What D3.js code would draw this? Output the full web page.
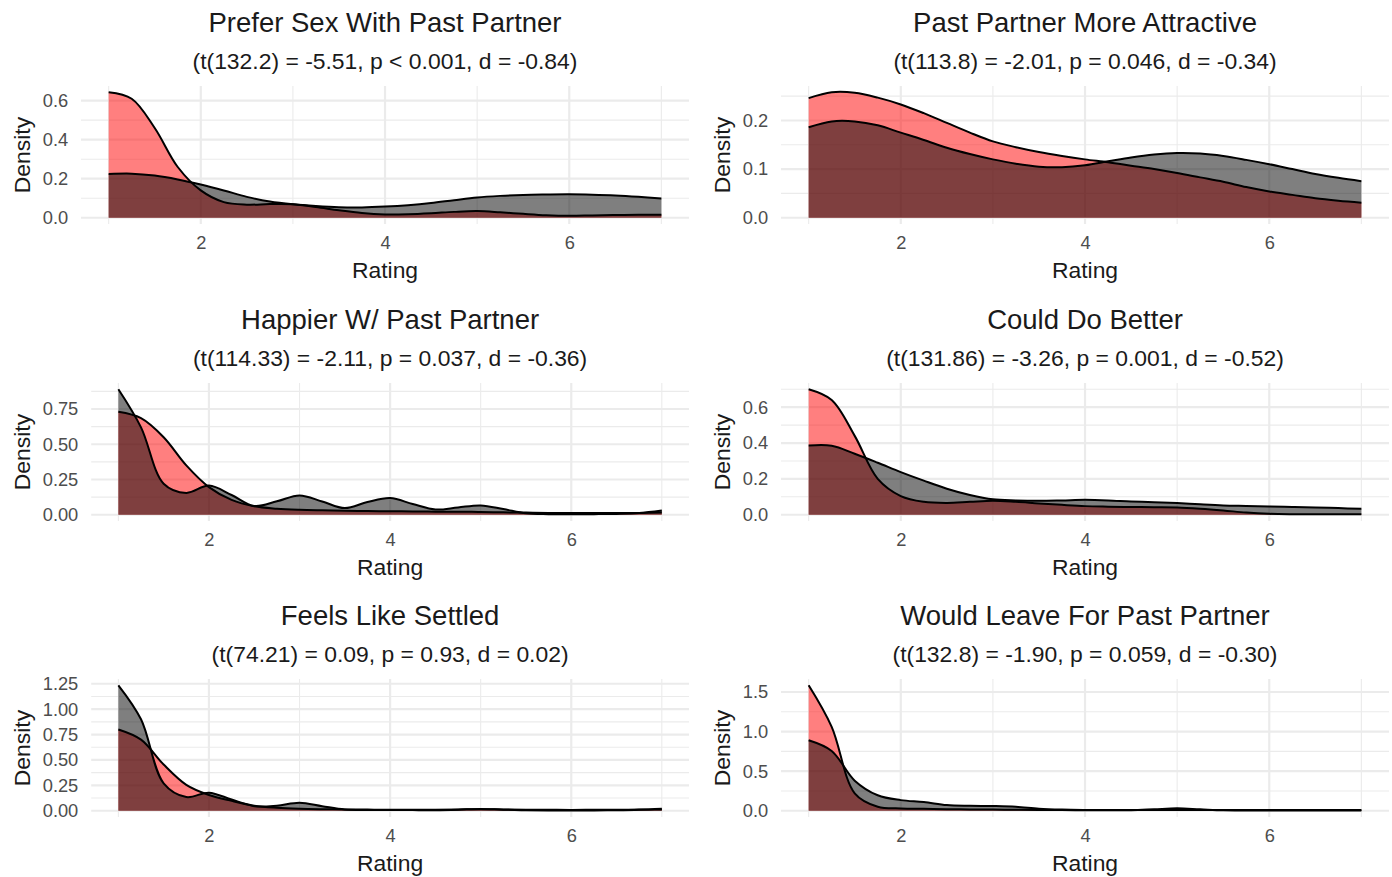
<!DOCTYPE html>
<html>
<head>
<meta charset="utf-8">
<script src="https://d3js.org/d3.v7.min.js"></script>
<style>
  body { margin: 0; background: #fff; }
  svg { display: block; font-family: "Liberation Sans", Arial, sans-serif; }
  .grid-major { stroke: #EBEBEB; stroke-width: 2.2px; }
  .grid-minor { stroke: #EBEBEB; stroke-width: 1.1px; }
  .plot-title { fill: #1a1a1a; font-size: 27.5px; }
  .plot-subtitle { fill: #1a1a1a; font-size: 22.9px; }
  .axis-title { fill: #1a1a1a; font-size: 22.9px; }
  .density-line { fill: none; stroke: #000; stroke-width: 2px; stroke-linejoin: round; }
</style>
</head>
<body>
<svg id="chart" width="1392" height="877"></svg>
<script>
  // rating grid the densities were read at
  const rating = [1, 1.25, 1.5, 1.75, 2, 2.25, 2.5, 2.75, 3, 3.25, 3.5, 3.75, 4,
    4.25, 4.5, 4.75, 5, 5.25, 5.5, 5.75, 6, 6.25, 6.5, 6.75, 7];
  const xBreaks = [2, 4, 6];

  const titles = [
    "Prefer Sex With Past Partner",
    "Past Partner More Attractive",
    "Happier W/ Past Partner",
    "Could Do Better",
    "Feels Like Settled",
    "Would Leave For Past Partner"
  ];
  const subtitles = [
    "(t(132.2) = -5.51, p < 0.001, d = -0.84)",
    "(t(113.8) = -2.01, p = 0.046, d = -0.34)",
    "(t(114.33) = -2.11, p = 0.037, d = -0.36)",
    "(t(131.86) = -3.26, p = 0.001, d = -0.52)",
    "(t(74.21) = 0.09, p = 0.93, d = 0.02)",
    "(t(132.8) = -1.90, p = 0.059, d = -0.30)"
  ];

  const preferSexRed = [0.643, 0.61, 0.46, 0.26, 0.14, 0.08, 0.067, 0.07, 0.069, 0.055, 0.038, 0.024, 0.017,
    0.018, 0.023, 0.03, 0.034, 0.028, 0.02, 0.013, 0.01, 0.012, 0.014, 0.015, 0.015];
  const preferSexBlack = [0.224, 0.226, 0.216, 0.196, 0.17, 0.14, 0.107, 0.083, 0.069, 0.06, 0.054, 0.053, 0.057,
    0.064, 0.075, 0.09, 0.104, 0.112, 0.117, 0.119, 0.12, 0.118, 0.114, 0.107, 0.098];
  const preferSexTicks = [0, 0.2, 0.4, 0.6];

  const attractiveRed = [0.246, 0.258, 0.257, 0.247, 0.233, 0.215, 0.195, 0.175, 0.157, 0.145, 0.135, 0.127, 0.12,
    0.114, 0.107, 0.1, 0.092, 0.083, 0.074, 0.063, 0.054, 0.047, 0.04, 0.035, 0.031];
  const attractiveBlack = [0.186, 0.198, 0.198, 0.19, 0.175, 0.16, 0.144, 0.131, 0.12, 0.111, 0.105, 0.104, 0.108,
    0.116, 0.124, 0.13, 0.133, 0.132, 0.127, 0.119, 0.11, 0.1, 0.09, 0.082, 0.075];
  const attractiveTicks = [0, 0.1, 0.2];

  const happierRed = [0.73, 0.685, 0.55, 0.35, 0.196, 0.105, 0.06, 0.043, 0.035, 0.031, 0.028, 0.026, 0.025,
    0.023, 0.022, 0.021, 0.02, 0.017, 0.015, 0.013, 0.012, 0.012, 0.012, 0.013, 0.015];
  const happierBlack = [0.89, 0.62, 0.22, 0.155, 0.207, 0.14, 0.062, 0.095, 0.137, 0.094, 0.047, 0.09, 0.118,
    0.076, 0.037, 0.052, 0.066, 0.04, 0.01, 0.004, 0.003, 0.004, 0.006, 0.012, 0.03];
  const happierTicks = [0, 0.25, 0.5, 0.75];

  const betterRed = [0.70, 0.64, 0.44, 0.2, 0.104, 0.072, 0.066, 0.072, 0.078, 0.072, 0.063, 0.055, 0.048,
    0.045, 0.043, 0.042, 0.041, 0.034, 0.024, 0.012, 0.005, 0.003, 0.003, 0.003, 0.003];
  const betterBlack = [0.386, 0.385, 0.34, 0.29, 0.238, 0.19, 0.145, 0.11, 0.086, 0.08, 0.078, 0.08, 0.083,
    0.08, 0.074, 0.07, 0.065, 0.058, 0.052, 0.049, 0.046, 0.043, 0.041, 0.037, 0.033];
  const betterTicks = [0, 0.2, 0.4, 0.6];

  const settledRed = [0.80, 0.70, 0.455, 0.255, 0.155, 0.097, 0.05, 0.03, 0.02, 0.015, 0.012, 0.011, 0.01,
    0.01, 0.01, 0.012, 0.015, 0.012, 0.01, 0.009, 0.008, 0.009, 0.01, 0.011, 0.012];
  const settledBlack = [1.235, 0.9, 0.27, 0.135, 0.178, 0.11, 0.045, 0.05, 0.079, 0.045, 0.013, 0.008, 0.008,
    0.006, 0.005, 0.01, 0.018, 0.01, 0.005, 0.003, 0.003, 0.003, 0.005, 0.01, 0.02];
  const settledTicks = [0, 0.25, 0.5, 0.75, 1, 1.25];

  const leaveRed = [1.585, 1.06, 0.22, 0.05, 0.029, 0.024, 0.02, 0.017, 0.015, 0.012, 0.01, 0.008, 0.006,
    0.006, 0.007, 0.018, 0.03, 0.018, 0.006, 0.004, 0.004, 0.004, 0.004, 0.004, 0.004];
  const leaveBlack = [0.89, 0.755, 0.38, 0.195, 0.134, 0.11, 0.071, 0.062, 0.059, 0.05, 0.025, 0.014, 0.01,
    0.009, 0.008, 0.009, 0.01, 0.009, 0.008, 0.009, 0.01, 0.01, 0.01, 0.01, 0.01];
  const leaveTicks = [0, 0.5, 1, 1.5];

  const panels = [
    { red: preferSexRed, black: preferSexBlack, ticks: preferSexTicks },
    { red: attractiveRed, black: attractiveBlack, ticks: attractiveTicks },
    { red: happierRed, black: happierBlack, ticks: happierTicks },
    { red: betterRed, black: betterBlack, ticks: betterTicks },
    { red: settledRed, black: settledBlack, ticks: settledTicks },
    { red: leaveRed, black: leaveBlack, ticks: leaveTicks }
  ];

  const svg = d3.select("#chart");
  svg.append("rect").attr("width", 1392).attr("height", 877).attr("fill", "#fff");

  const colX = [0, 700];
  const rowY = [0, 297, 593];
  const panelTop = 86, panelBottom = 224, panelRight = 689;

  // ggplot style minor breaks: midpoints, also one step past each end
  function minorBreaks(b, domain) {
    const step = b[1] - b[0];
    const ext = [b[0] - step, ...b, b[b.length - 1] + step];
    const out = [];
    for (let i = 0; i < ext.length - 1; i++) out.push((ext[i] + ext[i + 1]) / 2);
    return out.filter(v => v >= domain[0] && v <= domain[1]);
  }

  function drawPanel(i) {
    const p = panels[i];
    const ox = colX[i % 2], oy = rowY[Math.floor(i / 2)];
    const g = svg.append("g").attr("transform", "translate(" + ox + "," + oy + ")");

    const digits = d3.max(p.ticks, v => (String(v).split(".")[1] || "").length);
    const fmt = d3.format("." + digits + "f");

    // measure widest y label so panel starts after it
    const probe = g.append("text").style("font-size", "18.3px");
    let maxW = 0;
    p.ticks.forEach(v => {
      probe.text(fmt(v));
      maxW = Math.max(maxW, probe.node().getComputedTextLength());
    });
    probe.remove();
    const left = 42.7 + maxW + 12.9;

    const x = d3.scaleLinear().domain([0.7, 7.3]).range([left, panelRight]);
    const maxY = d3.max([...p.red, ...p.black]);
    const y = d3.scaleLinear().domain([-0.05 * maxY, 1.05 * maxY]).range([panelBottom, panelTop]);

    const grid = g.append("g");
    minorBreaks(p.ticks, y.domain()).forEach(v => {
      grid.append("line").attr("class", "grid-minor")
        .attr("x1", left).attr("x2", panelRight).attr("y1", y(v)).attr("y2", y(v));
    });
    minorBreaks(xBreaks, x.domain()).forEach(v => {
      grid.append("line").attr("class", "grid-minor")
        .attr("x1", x(v)).attr("x2", x(v)).attr("y1", panelTop).attr("y2", panelBottom);
    });
    p.ticks.forEach(v => {
      grid.append("line").attr("class", "grid-major")
        .attr("x1", left).attr("x2", panelRight).attr("y1", y(v)).attr("y2", y(v));
    });
    xBreaks.forEach(v => {
      grid.append("line").attr("class", "grid-major")
        .attr("x1", x(v)).attr("x2", x(v)).attr("y1", panelTop).attr("y2", panelBottom);
    });

    const curve = d3.curveCatmullRom.alpha(0.5);
    const yClamp = v => Math.min(y(v), y(0));
    const area = d3.area().x(d => x(d[0])).y0(y(0)).y1(d => y(d[1])).curve(curve);
    const line = d3.line().x(d => x(d[0])).y(d => y(d[1])).curve(curve);

    [["red", p.red], ["black", p.black]].forEach(([col, vals]) => {
      const pts = rating.map((r, k) => [r, vals[k]]);
      g.append("path").attr("d", area(pts)).attr("fill", col).attr("fill-opacity", 0.5);
      g.append("path").attr("class", "density-line").attr("d", line(pts));
    });

    const yAxis = g.append("g").attr("transform", "translate(" + left + ",0)")
      .call(d3.axisLeft(y).tickValues(p.ticks).tickFormat(fmt).tickSize(0).tickPadding(12.9));
    const xAxis = g.append("g").attr("transform", "translate(0," + panelBottom + ")")
      .call(d3.axisBottom(x).tickValues(xBreaks).tickFormat(d3.format("d")).tickSize(0).tickPadding(12.5));
    [yAxis, xAxis].forEach(a => {
      a.select(".domain").remove();
      a.attr("font-family", null).attr("font-size", null);
      a.selectAll("text").style("font-size", "18.3px").attr("fill", "#4D4D4D");
    });

    const cx = (left + panelRight) / 2;
    g.append("text").attr("class", "plot-title").attr("x", cx).attr("y", 31.8)
      .attr("text-anchor", "middle").text(titles[i]);
    g.append("text").attr("class", "plot-subtitle").attr("x", cx).attr("y", 69)
      .attr("text-anchor", "middle").text(subtitles[i]);
    g.append("text").attr("class", "axis-title").attr("x", cx).attr("y", 278)
      .attr("text-anchor", "middle").text("Rating");
    g.append("text").attr("class", "axis-title")
      .attr("transform", "translate(30.2," + (panelTop + panelBottom) / 2 + ") rotate(-90)")
      .attr("text-anchor", "middle").text("Density");
  }

  panels.forEach((p, i) => drawPanel(i));
</script>
</body>
</html>
